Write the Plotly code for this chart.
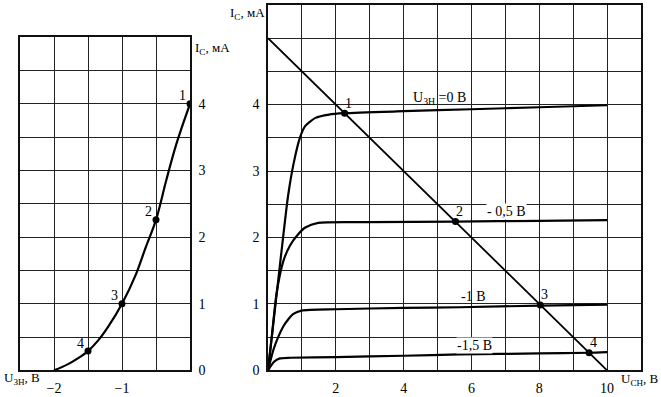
import plotly.graph_objects as go

# ---- data ----
# transfer characteristic (left)
left_u = [-2.0, -1.8, -1.65, -1.5, -1.35, -1.2, -1.0, -0.8, -0.65, -0.5, -0.35, -0.2, 0.0]
left_i = [0.0, 0.09, 0.18, 0.29, 0.45, 0.66, 1.0, 1.43, 1.85, 2.26, 2.85, 3.4, 4.0]
left_pts_u = [0.0, -0.5, -1.0, -1.5]
left_pts_i = [4.0, 2.26, 1.0, 0.29]
pt_names = ["1", "2", "3", "4"]

# output characteristics (right)
u0 = [0, 0.2, 0.4, 0.59, 0.75, 0.94, 1.1, 1.4, 1.8, 2.26, 4, 6, 8, 10]
i0 = [0, 0.9, 1.8, 2.62, 3.1, 3.5, 3.68, 3.8, 3.85, 3.87, 3.9, 3.93, 3.96, 3.99]
u05 = [0, 0.12, 0.25, 0.45, 0.65, 0.89, 1.1, 1.48, 3, 5.53, 8, 10]
i05 = [0, 0.55, 1.15, 1.64, 1.88, 2.05, 2.15, 2.22, 2.23, 2.24, 2.25, 2.26]
u1 = [0, 0.16, 0.3, 0.45, 0.6, 0.75, 0.99, 2, 4, 5.65, 8.03, 10]
i1 = [0, 0.31, 0.5, 0.66, 0.77, 0.85, 0.90, 0.92, 0.94, 0.95, 0.975, 0.99]
u15 = [0, 0.1, 0.2, 0.35, 0.65, 2, 4, 5.65, 8, 9.47, 10]
i15 = [0, 0.08, 0.14, 0.18, 0.19, 0.2, 0.22, 0.24, 0.255, 0.265, 0.275]
load_u = [0, 10]
load_i = [5, 0]
right_pts_u = [2.26, 5.53, 8.03, 9.47]
right_pts_i = [3.87, 2.24, 0.985, 0.265]

curve_labels = ["U<sub>ЗН</sub> =0 В", "- 0,5 В", "-1 В", "-1,5 В"]

# tick labels
left_xt = [-2.0, -1.0]
left_xtl = ["−2", "−1"]
left_yt = [0, 1, 2, 3, 4]
left_ytl = ["0", "1", "2", "3", "4"]
right_xt = [2, 4, 6, 8, 10]
right_xtl = ["2", "4", "6", "8", "10"]
right_yt = [0, 1, 2, 3, 4]
right_ytl = ["0", "1", "2", "3", "4"]

W, H = 661, 397
FONT = "'Liberation Serif', 'Times New Roman', serif"

def px(x):
    return x / W

def py(y):
    return 1 - y / H

fig = go.Figure()
line = dict(color="black", width=2.2)
fig.add_trace(go.Scatter(x=left_u, y=left_i, mode="lines", line=dict(shape="spline", smoothing=1.0, **line),
                         xaxis="x", yaxis="y"))
fig.add_trace(go.Scatter(x=left_pts_u, y=left_pts_i, mode="markers", marker=dict(color="black", size=7),
                         xaxis="x", yaxis="y"))
for uu, ii in [(u0, i0), (u05, i05), (u1, i1), (u15, i15)]:
    fig.add_trace(go.Scatter(x=uu, y=ii, mode="lines", line=dict(shape="spline", smoothing=0.6, **line),
                             xaxis="x2", yaxis="y2"))
fig.add_trace(go.Scatter(x=load_u, y=load_i, mode="lines", line=dict(color="black", width=1.8),
                         xaxis="x2", yaxis="y2"))
fig.add_trace(go.Scatter(x=right_pts_u, y=right_pts_i, mode="markers", marker=dict(color="black", size=7),
                         xaxis="x2", yaxis="y2"))

def axis(rng, tv, tt, minor_dt, **kw):
    return dict(range=rng, tickmode="array", tickvals=tv, ticktext=tt,
                showgrid=True, gridcolor="#222", gridwidth=1,
                minor=dict(showgrid=True, gridcolor="#222", gridwidth=1, dtick=minor_dt, tick0=0, ticks=""),
                showline=True, linecolor="#111", linewidth=1.5, mirror=True, zeroline=False, ticks="",
                ticklabelstandoff=4,
                tickfont=dict(family=FONT, size=14, color="black"), fixedrange=True, **kw)

fig.update_layout(
    width=W, height=H, margin=dict(l=0, r=0, t=0, b=0),
    paper_bgcolor="white", plot_bgcolor="white", showlegend=False,
    xaxis=axis([-2.5, 0], left_xt, left_xtl, 0.5, domain=[px(20), px(190)], anchor="y"),
    yaxis=axis([0, 5], left_yt, left_ytl, 0.5, domain=[py(378), py(38)], side="right", anchor="x"),
    xaxis2=axis([0, 11], right_xt, right_xtl, 1, domain=[px(268), px(641)], anchor="y2"),
    yaxis2=axis([0, 5.5], right_yt, right_ytl, 0.5, domain=[py(378), py(5)], anchor="x2"),
)

ann = []
tf = dict(family=FONT, size=14, color="black")
tf13 = dict(family=FONT, size=13, color="black")
# point labels
for n, u, i in zip(pt_names, left_pts_u, left_pts_i):
    ann.append(dict(x=u, y=i, xref="x", yref="y", text=n, showarrow=False, font=tf,
                    xshift=-8, yshift=8))
for n, u, i in zip(pt_names, right_pts_u, right_pts_i):
    ann.append(dict(x=u, y=i, xref="x2", yref="y2", text=n, showarrow=False, font=tf,
                    xshift=4, yshift=10))
# curve labels
lab_pos = [(5.05, 4.12), (7.03, 2.43), (6.05, 1.15), (6.1, 0.42)]
lab_dy = [-2, -3, -3, -3]
lab_bg = ["rgba(0,0,0,0)", "white", "rgba(0,0,0,0)", "white"]
for t, (u, i), dy, bg in zip(curve_labels, lab_pos, lab_dy, lab_bg):
    ann.append(dict(x=u, y=i, xref="x2", yref="y2", text=t, showarrow=False, font=tf,
                    bgcolor=bg, borderpad=0, yshift=dy))
# axis titles
ann.append(dict(x=px(193), y=py(50), xref="paper", yref="paper", text="I<sub>С</sub>, мА",
                showarrow=False, font=tf13, xanchor="left", yanchor="middle"))
ann.append(dict(x=px(2), y=py(386), xref="paper", yref="paper", text="U<sub>ЗН</sub>, В",
                showarrow=False, font=tf13, xanchor="left", yanchor="middle"))
ann.append(dict(x=px(267), y=py(14), xref="paper", yref="paper", text="I<sub>С</sub>, мА",
                showarrow=False, font=tf13, xanchor="right", yanchor="middle"))
ann.append(dict(x=px(619), y=py(387), xref="paper", yref="paper", text="U<sub>СН</sub>, В",
                showarrow=False, font=tf13, xanchor="left", yanchor="middle"))
fig.update_layout(annotations=ann)

fig.write_html("out.html")
